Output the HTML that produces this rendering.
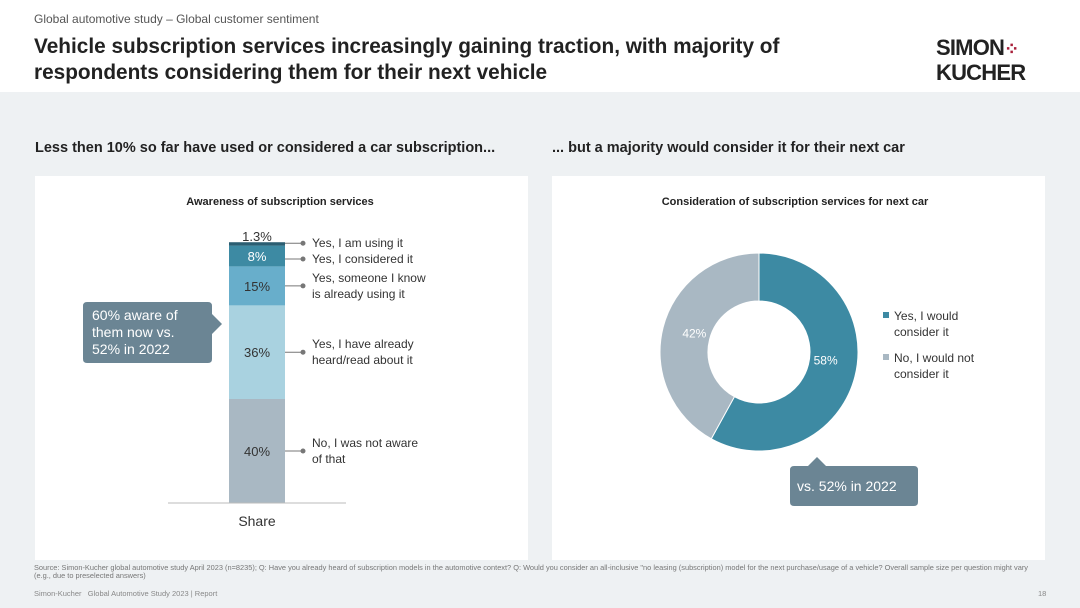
<!DOCTYPE html>
<html><head><meta charset="utf-8"><style>
body{margin:0;width:1080px;height:608px;overflow:hidden;font-family:"Liberation Sans",Arial,sans-serif;background:#eef1f3;position:relative}
.a{position:absolute;white-space:nowrap}
</style></head><body>
<div style="position:absolute;left:0;top:0;width:1080px;height:92px;background:#fff"></div>
<div class="a" style="left:34px;top:12px;font-size:12px;color:#555">Global automotive study – Global customer sentiment</div>
<div class="a" style="left:34px;top:34px;font-size:20.8px;font-weight:bold;color:#222;line-height:26px">Vehicle subscription services increasingly gaining traction, with majority of<br>respondents considering them for their next vehicle</div>
<div class="a" style="left:936px;top:36px;font-size:22px;font-weight:bold;color:#222;line-height:23px;letter-spacing:-0.8px">SIMON<span style="color:#a8203a;font-size:18px">⁘</span><br>KUCHER</div>
<div class="a" style="left:35px;top:140px;font-size:14.5px;font-weight:bold;color:#222">Less then 10% so far have used or considered a car subscription...</div>
<div class="a" style="left:552px;top:140px;font-size:14.5px;font-weight:bold;color:#222">... but a majority would consider it for their next car</div>
<div style="position:absolute;left:35px;top:176px;width:493px;height:384px;background:#fff"></div>
<div style="position:absolute;left:552px;top:176px;width:493px;height:384px;background:#fff"></div>
<svg id="c" width="1080" height="608" style="position:absolute;left:0;top:0"></svg>
<div class="a" style="left:34px;top:564px;font-size:7.4px;color:#777;line-height:8px">Source: Simon-Kucher global automotive study April 2023 (n=8235); Q: Have you already heard of subscription models in the automotive context? Q: Would you consider an all-inclusive "no leasing (subscription) model for the next purchase/usage of a vehicle? Overall sample size per question might vary<br>(e.g., due to preselected answers)</div>
<div class="a" style="left:34px;top:589px;font-size:7.5px;color:#888">Simon-Kucher &nbsp; Global Automotive Study 2023 | Report</div>
<div class="a" style="left:1038px;top:589px;font-size:7.5px;color:#888">18</div>
<script>
const barCategories=["No, I was not aware|of that","Yes, I have already|heard/read about it","Yes, someone I know|is already using it","Yes, I considered it","Yes, I am using it"];
const barValues=[40,36,15,8,1.3];
const barLabels=["40%","36%","15%","8%","1.3%"];
const donutCategories=["Yes, I would|consider it","No, I would not|consider it"];
const donutValues=[58,42];
const donutLabels=["58%","42%"];
const NS="http://www.w3.org/2000/svg",svg=document.getElementById('c');
function mk(t,a,p){const e=document.createElementNS(NS,t);for(const k in a)e.setAttribute(k,a[k]);(p||svg).appendChild(e);return e;}
function tx(x,y,s,a){const e=mk('text',Object.assign({x:x,y:y,'font-family':'Liberation Sans, Arial, sans-serif'},a));e.textContent=s;return e;}
let t=tx(280,205,'Awareness of subscription services',{'font-size':11,'font-weight':'bold','text-anchor':'middle',fill:'#222'});

t=tx(795,205,'Consideration of subscription services for next car',{'font-size':11,'font-weight':'bold','text-anchor':'middle',fill:'#222'});

const base=503,ppu=2.6,bx=229,bw=56;
const y=v=>base-v*ppu;
const cols=['#a9b8c3','#a9d2e0','#68aecb','#3d8aa3','#2b5e72'];
let acc=0;
barValues.forEach((v,i)=>{
 const y0=y(acc),y1=y(acc+v);acc+=v;
 const r=mk('rect',{x:bx,y:y1,width:bw,height:y0-y1,fill:cols[i]});
 
 const my=(y0+y1)/2;
 const lt=tx(bx+bw/2,i==4?y1-1:my+5,barLabels[i],{'font-size':13,'text-anchor':'middle',fill:i==3?'#fff':'#333'});
 
 const ly=i==4?y1+1:(i==3?my+3:my);
 mk('line',{x1:bx+bw,y1:ly,x2:303,y2:ly,stroke:'#777','stroke-width':1});
 mk('circle',{cx:303,cy:ly,r:2.5,fill:'#777'});
 const lines=barCategories[i].split('|');
 lines.forEach((s,j)=>{const c=tx(312,ly+4+(j-(lines.length-1)/2)*16,s,{'font-size':12,fill:'#333'});
  });
});
mk('line',{x1:168,y1:base,x2:346,y2:base,stroke:'#bbb','stroke-width':1});
t=tx(257,526,'Share',{'font-size':14,'text-anchor':'middle',fill:'#333'});

let cb=mk('path',{d:'M87,302 H208 Q212,302 212,306 V314 L222,324 L212,334 V359 Q212,363 208,363 H87 Q83,363 83,359 V306 Q83,302 87,302Z',fill:'#6b8594'});

['60% aware of','them now vs.','52% in 2022'].forEach((s,j)=>tx(92,320+j*17,s,{'font-size':14,fill:'#fff'}));
const cx=759,cy=352,R=99,r0=51,tot=donutValues.reduce((a,b)=>a+b,0);
const dc=['#3d8aa3','#a9b8c3'];
let a0=-Math.PI/2;
donutValues.forEach((v,i)=>{
 const a1=a0+v/tot*2*Math.PI,lg=(a1-a0)>Math.PI?1:0;
 const p=(rr,a)=>[cx+rr*Math.cos(a),cy+rr*Math.sin(a)];
 const [x0,y0]=p(R,a0),[x1,y1]=p(R,a1),[x2,y2]=p(r0,a1),[x3,y3]=p(r0,a0);
 const s=mk('path',{d:`M${x0},${y0}A${R},${R} 0 ${lg} 1 ${x1},${y1}L${x2},${y2}A${r0},${r0} 0 ${lg} 0 ${x3},${y3}Z`,fill:dc[i],stroke:'#fff','stroke-width':1});
 
 const am=(a0+a1)/2,[lx,ly]=p((R+r0)/2,am);
 const l=tx(lx+(i==0?-6:8),ly+(i==0?-6:4),donutLabels[i],{'font-size':12,'text-anchor':'middle',fill:'#fff'});
 
 mk('rect',{x:883,y:312+i*42,width:6,height:6,fill:dc[i]});
 donutCategories[i].split('|').forEach((s2,j)=>{const g=tx(894,320+i*42+j*16,s2,{'font-size':12,fill:'#333'});
  });
 a0=a1;
});
cb=mk('path',{d:'M794,466 H808 L817,457 L826,466 H914 Q918,466 918,470 V502 Q918,506 914,506 H794 Q790,506 790,502 V470 Q790,466 794,466Z',fill:'#6b8594'});

tx(797,491,'vs. 52% in 2022',{'font-size':14,fill:'#fff'});
</script>
</body></html>
